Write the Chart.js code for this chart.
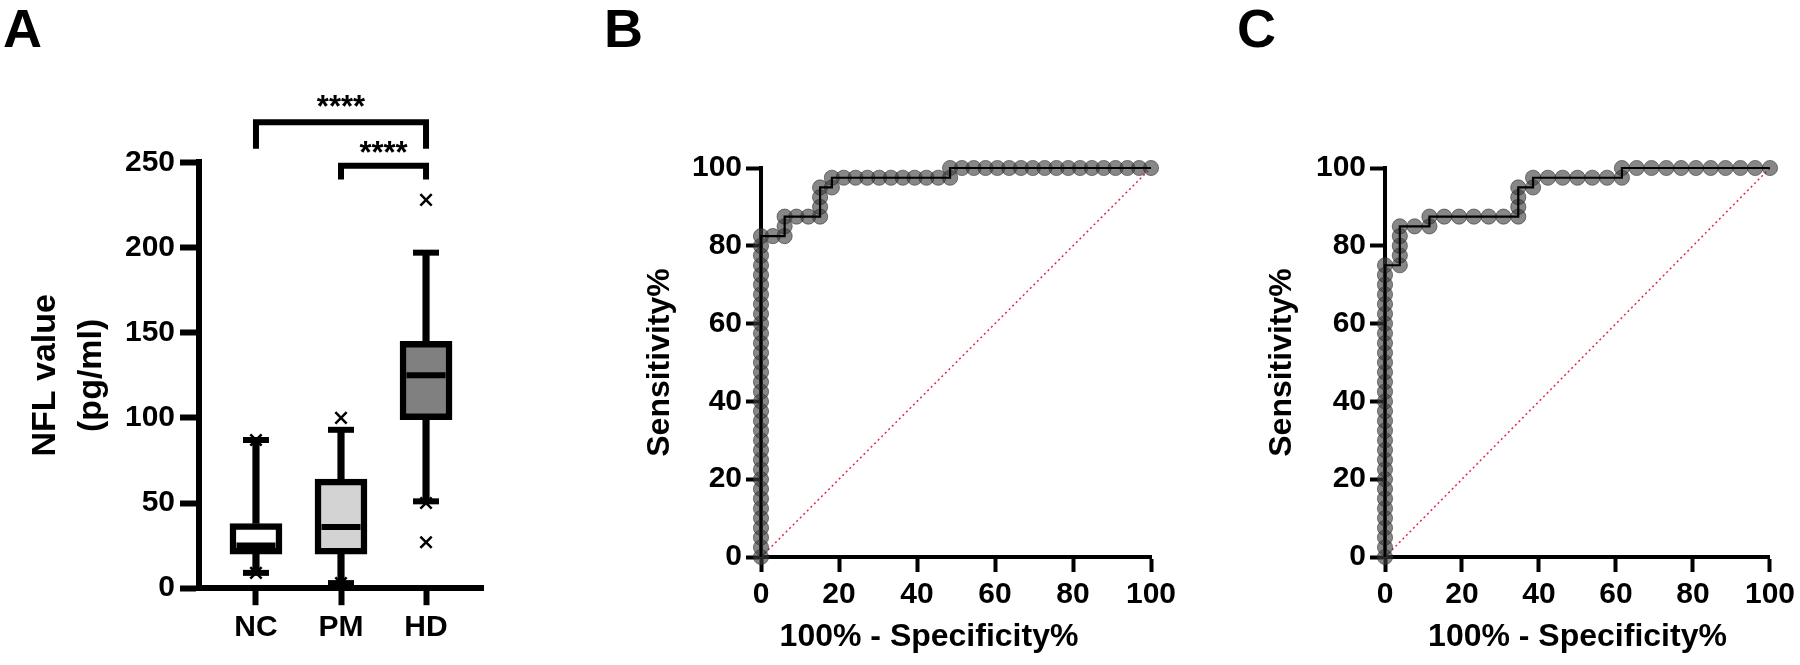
<!DOCTYPE html>
<html><head><meta charset="utf-8">
<script src="https://cdn.jsdelivr.net/npm/chart.js@4.4.1/dist/chart.umd.min.js"></script>
<style>
html,body{margin:0;padding:0;background:#fff;}
#wrap{position:relative;width:1800px;height:665px;overflow:hidden;background:#fff;}
canvas{position:absolute;top:0;}
.letter{position:absolute;font-family:"Liberation Sans",Arial,sans-serif;font-weight:bold;font-size:54px;line-height:54px;color:#000;top:1px;}
</style></head>
<body><div id="wrap">
<canvas id="cA" width="580" height="665" style="left:0px"></canvas>
<canvas id="cB" width="620" height="665" style="left:580px"></canvas>
<canvas id="cC" width="600" height="665" style="left:1200px"></canvas>
<div class="letter" style="left:3px">A</div>
<div class="letter" style="left:604px">B</div>
<div class="letter" style="left:1237px">C</div>
</div>
<script>
// ---------- Panel A data ----------
const groups = ['NC', 'PM', 'HD'];
const whiskerLow = [9, 3, 51];
const quartile1 = [20, 20, 99];
const medians = [25, 36, 125];
const quartile3 = [38, 64, 145];
const whiskerHigh = [87, 93, 197];
const outlierGroup = [0, 0, 1, 1, 2, 2, 2];
const outlierValue = [87, 9, 100, 3, 228, 50, 27];
const boxColors = ['#ffffff', '#d3d3d3', '#808080'];
const yTicksA = [0, 50, 100, 150, 200, 250];
const compFrom = [0, 1];
const compTo = [2, 2];
const compTop = [273.5, 248];
const compDrop = [258, 240];
const compLabelY = [287, 260];
const compLabel = ['****', '****'];

// ---------- Panel B data (100% - specificity, sensitivity) ----------
const rocB_x = [0,0,0,0,0,0,0,0,0,0,0,0,0,0,0,0,0,0,0,0,0,0,0,0,0,0,0,0,0,0,0,0,0,0,
  3.03, 6.06, 6.06, 6.06, 9.09, 12.12, 15.15, 15.15, 15.15, 15.15, 18.18, 18.18,
  21.21, 24.24, 27.27, 30.30, 33.33, 36.36, 39.39, 42.42, 45.45, 48.48, 48.48,
  51.52, 54.55, 57.58, 60.61, 63.64, 66.67, 69.70, 72.73, 75.76, 78.79, 81.82,
  84.85, 87.88, 90.91, 93.94, 96.97, 100];
const rocB_y = [0,2.5,5,7.5,10,12.5,15,17.5,20,22.5,25,27.5,30,32.5,35,37.5,40,42.5,45,47.5,
  50,52.5,55,57.5,60,62.5,65,67.5,70,72.5,75,77.5,80,82.5,
  82.5, 82.5, 85, 87.5, 87.5, 87.5, 87.5, 90, 92.5, 95, 95, 97.5,
  97.5, 97.5, 97.5, 97.5, 97.5, 97.5, 97.5, 97.5, 97.5, 97.5, 100,
  100, 100, 100, 100, 100, 100, 100, 100, 100, 100, 100,
  100, 100, 100, 100, 100, 100];

// ---------- Panel C data ----------
const rocC_x = [0,0,0,0,0,0,0,0,0,0,0,0,0,0,0,0,0,0,0,0,0,0,0,0,0,0,0,0,0,0,0,
  3.85, 3.85, 3.85, 3.85, 3.85, 7.69, 11.54, 11.54, 15.38, 19.23, 23.08, 26.92, 30.77,
  34.62, 34.62, 34.62, 34.62, 38.46, 38.46, 42.31, 46.15, 50.00, 53.85, 57.69, 61.54, 61.54,
  65.38, 69.23, 73.08, 76.92, 80.77, 84.62, 88.46, 92.31, 96.15, 100];
const rocC_y = [0,2.5,5,7.5,10,12.5,15,17.5,20,22.5,25,27.5,30,32.5,35,37.5,40,42.5,45,47.5,
  50,52.5,55,57.5,60,62.5,65,67.5,70,72.5,75,
  75, 77.5, 80, 82.5, 85, 85, 85, 87.5, 87.5, 87.5, 87.5, 87.5, 87.5,
  87.5, 90, 92.5, 95, 95, 97.5, 97.5, 97.5, 97.5, 97.5, 97.5, 97.5, 100,
  100, 100, 100, 100, 100, 100, 100, 100, 100, 100];
const refLineX = [0, 100];
const refLineY = [0, 100];
const rocTicks = [0, 20, 40, 60, 80, 100];
const rocXTitle = '100% - Specificity%';
const rocYTitle = 'Sensitivity%';

const FONT = '"Liberation Sans", Arial, sans-serif';
const pts = (xs, ys) => xs.map((v, i) => ({x: v, y: ys[i]}));

// ---------- Panel A chart ----------
const starPlugin = {
  id: 'stars',
  afterDatasetsDraw(chart) {
    const {ctx, scales: {x, y}} = chart;
    const size = 31;
    ctx.save();
    ctx.font = 'bold ' + size + 'px ' + FONT;
    ctx.textAlign = 'center';
    ctx.textBaseline = 'alphabetic';
    ctx.fillStyle = '#000';
    compLabel.forEach((t, i) => {
      const cx = (x.getPixelForValue(compFrom[i]) + x.getPixelForValue(compTo[i])) / 2;
      const cy = y.getPixelForValue(compLabelY[i]) + 0.58 * size;
      ctx.fillText(t, cx, cy);
    });
    ctx.restore();
  }
};

const bracketSets = compFrom.map((f, i) => ({
  type: 'line',
  data: [{x: f, y: compDrop[i]}, {x: f, y: compTop[i]}, {x: compTo[i], y: compTop[i]}, {x: compTo[i], y: compDrop[i]}],
  borderColor: '#000', borderWidth: 6, pointRadius: 0, clip: false,
  borderJoinStyle: 'miter', borderCapStyle: 'butt', fill: false
}));

new Chart(document.getElementById('cA'), {
  type: 'bar',
  data: {
    datasets: [
      { type: 'line', showLine: false, data: outlierValue.map((v, i) => ({x: outlierGroup[i], y: v})),
        pointStyle: 'crossRot', pointRadius: 8, pointBorderWidth: 2.5, pointBorderColor: '#000', clip: false },
      { type: 'line', showLine: false,
        data: groups.flatMap((g, i) => [{x: i, y: whiskerLow[i]}, {x: i, y: whiskerHigh[i]}]),
        pointStyle: 'line', pointRadius: 13, pointBorderWidth: 6, pointBorderColor: '#000', clip: false },
      { type: 'line', showLine: false, data: medians.map((v, i) => ({x: i, y: v})),
        pointStyle: 'line', pointRadius: 19.5, pointBorderWidth: 6, pointBorderColor: '#000', clip: false },
      { type: 'bar', data: groups.map((g, i) => ({x: i, y: [quartile1[i], quartile3[i]]})),
        backgroundColor: boxColors, borderColor: '#000', borderWidth: 6.5, borderSkipped: false,
        barThickness: 52, grouped: false },
      { type: 'bar', data: groups.map((g, i) => ({x: i, y: [whiskerLow[i], quartile1[i]]})),
        backgroundColor: '#000', borderWidth: 0, barThickness: 6.5, grouped: false },
      { type: 'bar', data: groups.map((g, i) => ({x: i, y: [quartile3[i], whiskerHigh[i]]})),
        backgroundColor: '#000', borderWidth: 0, barThickness: 6.5, grouped: false },
      ...bracketSets
    ]
  },
  options: {
    responsive: false, animation: false, devicePixelRatio: 1, events: [],
    layout: { padding: { top: 162.4, right: 97, left: 0, bottom: 0 } },
    plugins: { legend: { display: false }, tooltip: { enabled: false } },
    scales: {
      x: {
        type: 'linear', min: -0.67, max: 2.67, offset: false,
        afterBuildTicks: s => { s.ticks = groups.map((g, i) => ({value: i})); },
        ticks: { callback: v => groups[v], color: '#000', padding: 5,
                 font: { family: FONT, weight: 'bold', size: 30 } },
        grid: { drawOnChartArea: false, offset: false, tickLength: 17, tickWidth: 6, color: '#000' },
        border: { display: true, color: '#000', width: 6 },
        afterFit: s => { s.height = 665 - 588.2; }
      },
      y: {
        min: 0, max: 250,
        afterBuildTicks: s => { s.ticks = yTicksA.map(v => ({value: v})); },
        ticks: { color: '#000', padding: 5, font: { family: FONT, weight: 'bold', size: 30 } },
        grid: { drawOnChartArea: false, tickLength: 19, tickWidth: 6, color: '#000' },
        border: { display: true, color: '#000', width: 6 },
        title: { display: true, text: ['NFL value', '(pg/ml)'], color: '#000',
                 font: { family: FONT, weight: 'bold', size: 34, lineHeight: 1.35 }, padding: { top: 23, bottom: 0 } },
        afterFit: s => { s.width = 199; }
      }
    }
  },
  plugins: [starPlugin]
});

// ---------- ROC charts ----------
const xTitlePlugin = {
  id: 'xTitle',
  afterDraw(chart, args, opts) {
    const {ctx, chartArea} = chart;
    const size = 32;
    ctx.save();
    ctx.font = 'bold ' + size + 'px ' + FONT;
    ctx.textAlign = 'center';
    ctx.textBaseline = 'middle';
    ctx.fillStyle = '#000';
    ctx.fillText(opts.text, (chartArea.left + chartArea.right) / 2 + opts.shift, chart.height - 9 - size * 0.6);
    ctx.restore();
  }
};

function rocChart(id, xs, ys, g) {
  return new Chart(document.getElementById(id), {
    type: 'scatter',
    data: {
      datasets: [
        { data: pts(xs, ys), showLine: true, borderColor: '#000', borderWidth: 2.2,
          pointRadius: 0, clip: false },
        { data: pts(xs, ys), showLine: false, pointRadius: 7.6, pointBorderWidth: 1,
          pointBackgroundColor: 'rgba(62,62,62,0.62)', pointBorderColor: 'rgba(40,40,40,0.55)', clip: false },
        { data: pts(refLineX, refLineY), showLine: true, borderColor: 'rgb(225,40,70)', borderWidth: 1.5,
          borderDash: [2, 3], pointRadius: 0, clip: false }
      ]
    },
    options: {
      responsive: false, animation: false, devicePixelRatio: 1, events: [],
      layout: { padding: { top: 168, right: g.padRight, left: 0, bottom: 0 } },
      plugins: { legend: { display: false }, tooltip: { enabled: false },
                 xTitle: { text: rocXTitle, shift: g.titleShift } },
      scales: {
        x: {
          type: 'linear', min: 0, max: 100,
          afterBuildTicks: s => { s.ticks = rocTicks.map(v => ({value: v})); },
          ticks: { color: '#000', padding: 5, font: { family: FONT, weight: 'bold', size: 30 } },
          grid: { drawOnChartArea: false, tickLength: 15, tickWidth: 4, color: '#000' },
          border: { display: true, color: '#000', width: 4 },
          afterFit: s => { s.height = 108; }
        },
        y: {
          type: 'linear', min: 0, max: 100,
          afterBuildTicks: s => { s.ticks = rocTicks.map(v => ({value: v})); },
          ticks: { color: '#000', padding: 4, font: { family: FONT, weight: 'bold', size: 30 } },
          grid: { drawOnChartArea: false, tickLength: 15, tickWidth: 4, color: '#000' },
          border: { display: true, color: '#000', width: 4 },
          title: { display: true, text: rocYTitle, color: '#000',
                   font: { family: FONT, weight: 'bold', size: 32, lineHeight: 1.2 }, padding: { top: g.titlePad, bottom: 0 } },
          afterFit: s => { s.width = g.yWidth; }
        }
      }
    },
    plugins: [xTitlePlugin]
  });
}
rocChart('cB', rocB_x, rocB_y, { padRight: 49, yWidth: 181, titlePad: 61, titleShift: -27 });
rocChart('cC', rocC_x, rocC_y, { padRight: 26, yWidth: 185, titlePad: 63, titleShift: 0 });
</script>
</body></html>
